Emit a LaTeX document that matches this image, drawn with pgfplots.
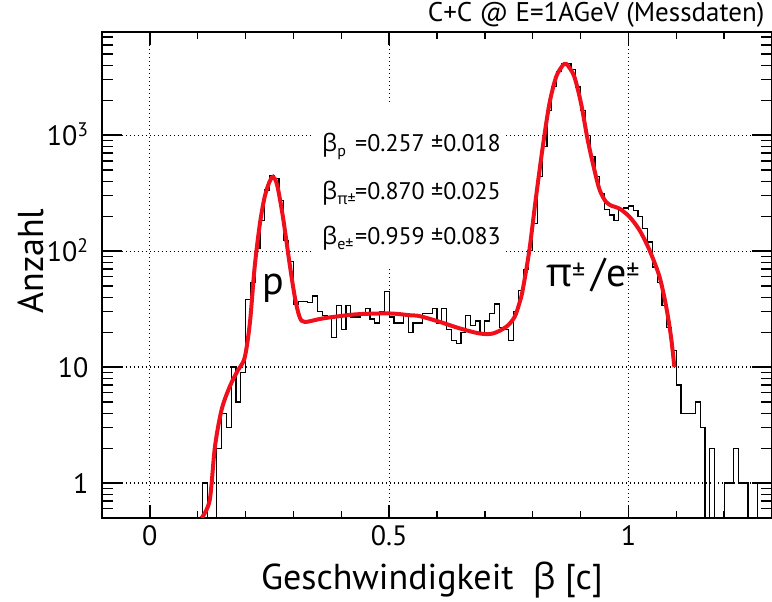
\documentclass[border=0pt]{standalone}
\usepackage{fontspec}
\setmainfont{PT Sans}
\newfontfamily\gr{Open Sans}
\usepackage{pgfplots}
\pgfplotsset{compat=1.18}
\definecolor{fitred}{RGB}{240,16,28}
\newcommand\lowsub[1]{\raisebox{-5pt}{\fontsize{16}{16}\selectfont #1}}
\newcommand\highsup[1]{\raisebox{6pt}{\fontsize{26}{26}\selectfont #1}}

\begin{document}
\begin{tikzpicture}
\useasboundingbox (0,0) rectangle (772pt,602pt);
\begin{axis}[
  at={(102pt,84pt)}, anchor=south west,
  scale only axis, width=670pt, height=486pt,
  ymode=log, xmin=-0.1, xmax=1.3, ymin=0.5, ymax=7750,
  axis line style={line width=2pt},
  tick align=inside, xtick pos=both, ytick pos=both,
  tick style={black, line width=1.3pt},
  major tick length=20pt, minor tick length=11pt,
  xtick style={/pgfplots/major tick length=13pt, /pgfplots/minor tick length=7pt},
  xtick={0,0.5,1}, xticklabels={0,0.5,1},
  minor xtick={0.1,0.2,0.3,0.4,0.6,0.7,0.8,0.9,1.1,1.2},
  ytick={1,10,100,1000},
  yticklabels={1,10,10\textsuperscript{2},10\textsuperscript{3}},
  minor ytick={0.6,0.7,0.8,0.9,2,3,4,5,6,7,8,9,20,30,40,50,60,70,80,90,
    200,300,400,500,600,700,800,900,2000,3000,4000,5000,6000,7000},
  grid=major,
  major grid style={black, line width=1.2pt, dash pattern=on 1.2pt off 2.8pt},
  xticklabel style={font=\fontsize{28}{30}\selectfont, anchor=base, yshift=-28pt},
  yticklabel style={font=\fontsize{28}{30}\selectfont, anchor=base east, xshift=-10pt, yshift=-10pt},
  clip=true,
]
% white pad behind the fit parameters
\fill[white] (axis cs:0.338,75) rectangle (axis cs:0.741,1812);

% measured beta histogram, bins of 0.01 (left edges)
\addplot[const plot, black, line width=1.2pt] coordinates {
 (0.10,0.1) (0.11,1) (0.12,0.1) (0.13,0.1) (0.14,2) (0.15,4) (0.16,3) (0.17,10)
 (0.18,5) (0.19,9) (0.20,38) (0.21,54) (0.22,105) (0.23,184) (0.24,336) (0.25,452)
 (0.26,424) (0.27,275) (0.28,124) (0.29,81) (0.30,35) (0.31,37) (0.32,37) (0.33,36)
 (0.34,41) (0.35,30) (0.36,28) (0.37,27) (0.38,18) (0.39,34) (0.40,21) (0.41,34)
 (0.42,27) (0.43,27) (0.44,29) (0.45,32) (0.46,26) (0.47,24) (0.48,30) (0.49,45)
 (0.50,27) (0.51,24) (0.52,24) (0.53,28) (0.54,20) (0.55,24) (0.56,24) (0.57,29)
 (0.58,29) (0.59,32) (0.60,24) (0.61,32) (0.62,21) (0.63,17) (0.64,16) (0.65,20)
 (0.66,28) (0.67,23) (0.68,25) (0.69,20) (0.70,25) (0.71,29) (0.72,35) (0.73,22)
 (0.74,21) (0.75,17) (0.76,30) (0.77,46) (0.78,69) (0.79,102) (0.80,174) (0.81,437)
 (0.82,793) (0.83,1640) (0.84,2610) (0.85,3510) (0.86,4100) (0.87,4150) (0.88,3700)
 (0.89,2600) (0.90,1640) (0.91,1000) (0.92,650) (0.93,437) (0.94,314) (0.95,230)
 (0.96,205) (0.97,185) (0.98,225) (0.99,235) (1.00,245) (1.01,225) (1.02,200)
 (1.03,157) (1.04,120) (1.05,73) (1.06,54) (1.07,34) (1.08,22) (1.09,14) (1.10,7)
 (1.11,4) (1.12,4) (1.13,4) (1.14,5) (1.15,3) (1.16,0.1) (1.17,2) (1.18,0.1)
 (1.19,0.1) (1.20,1) (1.21,1) (1.22,2) (1.23,1) (1.24,1) (1.25,0.1) (1.26,0.1)
 (1.27,1) (1.28,1) (1.29,1) (1.30,1)
};

% fit
\addplot[fitred, line width=4pt, smooth, tension=0.5] coordinates {
 (0.108,0.5) (0.125,0.71) (0.136,2.06) (0.150,4.3) (0.167,6.8) (0.184,9.4)
 (0.198,12) (0.209,24) (0.219,73) (0.230,173) (0.240,294) (0.250,396) (0.2575,437)
 (0.266,371) (0.278,198) (0.292,78) (0.303,40) (0.313,27) (0.324,24.5) (0.362,26.3)
 (0.431,28.5) (0.501,29) (0.543,28) (0.564,27.5) (0.605,24.6) (0.647,21.6)
 (0.689,19.5) (0.717,19.5) (0.745,22.3) (0.762,27) (0.772,35.4) (0.779,46)
 (0.793,102) (0.807,294) (0.821,793) (0.835,1876) (0.849,3184) (0.863,4010)
 (0.868,4100) (0.873,4010) (0.887,3184) (0.901,1876) (0.915,905) (0.929,499)
 (0.940,336) (0.953,266) (0.966,245) (0.981,233) (1.002,198) (1.023,152)
 (1.044,102) (1.065,60) (1.079,33) (1.089,18.2) (1.096,10)
};
\end{axis}

% titles and labels
\node[anchor=base east, font=\fontsize{27}{29}\selectfont] at (768pt,580pt)
  {C+C @ E=1AGeV (Messdaten)};
\node[anchor=base, font=\fontsize{36}{38}\selectfont] at (432pt,12pt)
  {Geschwindigkeit \ {\gr β} [c]};
\node[anchor=base, rotate=90, font=\fontsize{36}{38}\selectfont] at (43pt,341pt)
  {Anzahl};

% fit parameters
\begin{scope}[font=\fontsize{24}{26}\selectfont]
\node[anchor=base west, inner sep=0pt] at (322pt,450pt) {{\gr β}\lowsub{p}};
\node[anchor=base west, inner sep=0pt] at (355pt,450pt) {=0.257 ±0.018};
\node[anchor=base west, inner sep=0pt] at (322pt,402pt) {{\gr β}\lowsub{{\gr π}±}};
\node[anchor=base west, inner sep=0pt] at (355pt,402pt) {=0.870 ±0.025};
\node[anchor=base west, inner sep=0pt] at (322pt,357pt) {{\gr β}\lowsub{e±}};
\node[anchor=base west, inner sep=0pt] at (355pt,357pt) {=0.959 ±0.083};
\end{scope}

% peak labels
\node[anchor=base west, inner sep=0pt, font=\fontsize{40}{42}\selectfont] at (262pt,307pt) {p};
\node[anchor=base west, inner sep=0pt, font=\fontsize{40}{42}\selectfont] at (546pt,315pt)
  {{\gr π}\highsup{±}\,/e\highsup{±}};
\end{tikzpicture}
\end{document}
